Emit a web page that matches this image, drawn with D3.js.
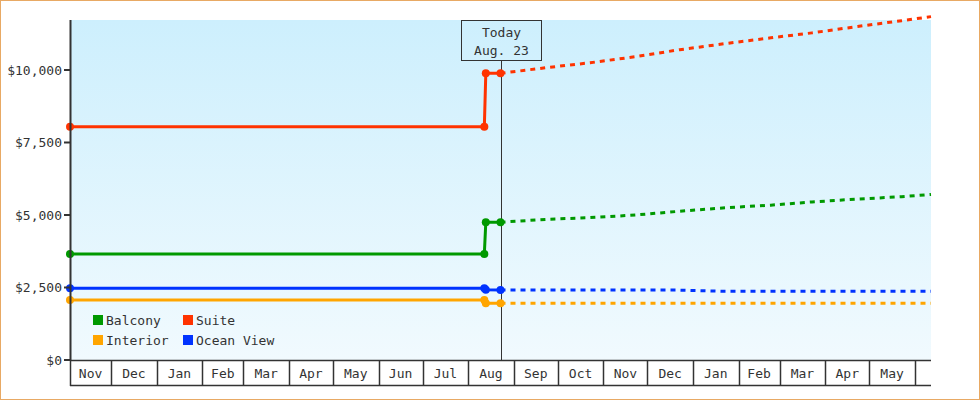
<!DOCTYPE html>
<html>
<head>
<meta charset="utf-8">
<script src="https://cdn.jsdelivr.net/npm/d3@7"></script>
<style>
  body { margin: 0; background: #fff; }
  svg text { font-family: "DejaVu Sans Mono", monospace; font-size: 13px; fill: #333; }
</style>
</head>
<body>
<svg id="chart" width="980" height="400"></svg>
<script>
// price history (solid) and forecast (dashed) per cabin type
const histDates = ["2012-11-03", "2013-08-12", "2013-08-13", "2013-08-23"];
const balconyHist = [3655, 3655, 4750, 4750];
const suiteHist = [8040, 8040, 9885, 9885];
const interiorHist = [2070, 2070, 1960, 1955];
const oceanHist = [2470, 2470, 2420, 2410];

const forecastDates = ["2013-08-23", "2013-09-23", "2013-10-23", "2013-11-23", "2013-12-23",
  "2014-01-23", "2014-02-23", "2014-03-23", "2014-04-23", "2014-05-23", "2014-06-12"];
const balconyForecast = [4750, 4850, 4910, 5000, 5130, 5250, 5340, 5450, 5550, 5630, 5710];
const suiteForecast = [9885, 10080, 10250, 10460, 10700, 10910, 11110, 11280, 11500, 11700, 11840];
const interiorForecast = [1955, 1955, 1955, 1955, 1955, 1955, 1955, 1955, 1955, 1955, 1955];
const oceanForecast = [2410, 2410, 2410, 2410, 2410, 2370, 2370, 2370, 2370, 2370, 2370];

const yTicks = [0, 2500, 5000, 7500, 10000];
const today = "2013-08-23";
const todayLabel = ["Today", "Aug. 23"];

const series = [
  { name: "Balcony", color: "#009900", hist: balconyHist, fc: balconyForecast },
  { name: "Suite", color: "#ff3300", hist: suiteHist, fc: suiteForecast },
  { name: "Interior", color: "#ffa500", hist: interiorHist, fc: interiorForecast },
  { name: "Ocean View", color: "#0033ff", hist: oceanHist, fc: oceanForecast }
];

const parse = d3.utcParse("%Y-%m-%d");
const svg = d3.select("#chart");
const plotL = 70, plotR = 931, plotT = 20, plotB = 360;

const x = d3.scaleUtc()
  .domain([parse("2012-11-03"), parse("2014-06-12")])
  .range([plotL, plotR]);
const y = d3.scaleLinear()
  .domain([0, 11724])
  .range([plotB, plotT]);

// outer frame
svg.append("rect")
  .attr("x", 0.5).attr("y", 0.5)
  .attr("width", 979).attr("height", 399)
  .attr("fill", "#fff")
  .attr("stroke", "#e8a964");

// plot background gradient
const grad = svg.append("defs").append("linearGradient")
  .attr("id", "bg").attr("x1", 0).attr("y1", 0).attr("x2", 0).attr("y2", 1);
grad.append("stop").attr("offset", "0%").attr("stop-color", "#cdeffd");
grad.append("stop").attr("offset", "100%").attr("stop-color", "#f1fafe");

svg.append("rect")
  .attr("x", plotL).attr("y", plotT)
  .attr("width", plotR - plotL).attr("height", plotB - plotT)
  .attr("fill", "url(#bg)");

// today marker line
const tx = Math.round(x(parse(today))) + 0.5;
svg.append("line")
  .attr("x1", tx).attr("x2", tx)
  .attr("y1", 60).attr("y2", plotB)
  .attr("stroke", "#333").attr("stroke-width", 1);

const line = d3.line()
  .x((d) => x(d[0]))
  .y((d) => y(d[1]));

series.forEach((s) => {
  const hist = histDates.map((d, i) => [parse(d), s.hist[i]]);
  const fc = forecastDates.map((d, i) => [parse(d), s.fc[i]]);

  svg.append("path")
    .attr("d", line(fc))
    .attr("fill", "none")
    .attr("stroke", s.color)
    .attr("stroke-width", 3)
    .attr("stroke-dasharray", "5,5");

  svg.append("path")
    .attr("d", line(hist))
    .attr("fill", "none")
    .attr("stroke", s.color)
    .attr("stroke-width", 3);

  svg.selectAll(null)
    .data(hist)
    .enter()
    .append("circle")
    .attr("cx", (d) => x(d[0]))
    .attr("cy", (d) => y(d[1]))
    .attr("r", 4)
    .attr("fill", s.color);
});

// y axis
svg.append("line")
  .attr("x1", plotL + 0.5).attr("x2", plotL + 0.5)
  .attr("y1", plotT).attr("y2", plotB)
  .attr("stroke", "#333").attr("stroke-width", 2);

const yt = svg.append("g").selectAll("g").data(yTicks).enter().append("g");
yt.append("line")
  .attr("x1", 64).attr("x2", plotL)
  .attr("y1", (d) => y(d)).attr("y2", (d) => y(d))
  .attr("stroke", "#333").attr("stroke-width", 2);
yt.append("text")
  .attr("x", 62)
  .attr("y", (d) => y(d))
  .attr("dy", "0.35em")
  .attr("text-anchor", "end")
  .text((d) => "$" + d3.format(",")(d));

// x axis: month cells
const [d0, d1] = x.domain();
const bounds = [d0].concat(d3.utcMonth.range(d3.utcMonth.ceil(d0), d1), [d1]);
const cells = d3.pairs(bounds);
const xa = svg.append("g");

xa.append("line")
  .attr("x1", plotL).attr("x2", plotR)
  .attr("y1", plotB + 0.5).attr("y2", plotB + 0.5)
  .attr("stroke", "#333").attr("stroke-width", 1.5);
xa.append("line")
  .attr("x1", plotL).attr("x2", plotR)
  .attr("y1", 385.5).attr("y2", 385.5)
  .attr("stroke", "#333").attr("stroke-width", 1.5);

xa.selectAll(".sep")
  .data(bounds.slice(0, -1))
  .enter()
  .append("line")
  .attr("class", "sep")
  .attr("x1", (d) => Math.round(x(d)) + 0.5)
  .attr("x2", (d) => Math.round(x(d)) + 0.5)
  .attr("y1", plotB).attr("y2", 386)
  .attr("stroke", "#333").attr("stroke-width", 1.5);

xa.selectAll(".mlabel")
  .data(cells.filter((c) => x(c[1]) - x(c[0]) > 25))
  .enter()
  .append("text")
  .attr("class", "mlabel")
  .attr("x", (c) => (x(c[0]) + x(c[1])) / 2)
  .attr("y", 373)
  .attr("dy", "0.35em")
  .attr("text-anchor", "middle")
  .text((c) => d3.utcFormat("%b")(c[0]));

// today box
svg.append("rect")
  .attr("x", tx - 40).attr("y", 20.5)
  .attr("width", 80).attr("height", 40)
  .attr("fill", "none")
  .attr("stroke", "#333");
svg.selectAll(".today")
  .data(todayLabel)
  .enter()
  .append("text")
  .attr("class", "today")
  .attr("x", tx)
  .attr("y", (d, i) => 32 + i * 18)
  .attr("dy", "0.35em")
  .attr("text-anchor", "middle")
  .text((d) => d);

// legend
const leg = svg.append("g").selectAll("g")
  .data(series)
  .enter()
  .append("g")
  .attr("transform", (d, i) => `translate(${93 + (i % 2) * 90},${315 + Math.floor(i / 2) * 20})`);
leg.append("rect")
  .attr("width", 10).attr("height", 10)
  .attr("fill", (d) => d.color);
leg.append("text")
  .attr("x", 13).attr("y", 5)
  .attr("dy", "0.35em")
  .text((d) => d.name);
</script>
</body>
</html>
